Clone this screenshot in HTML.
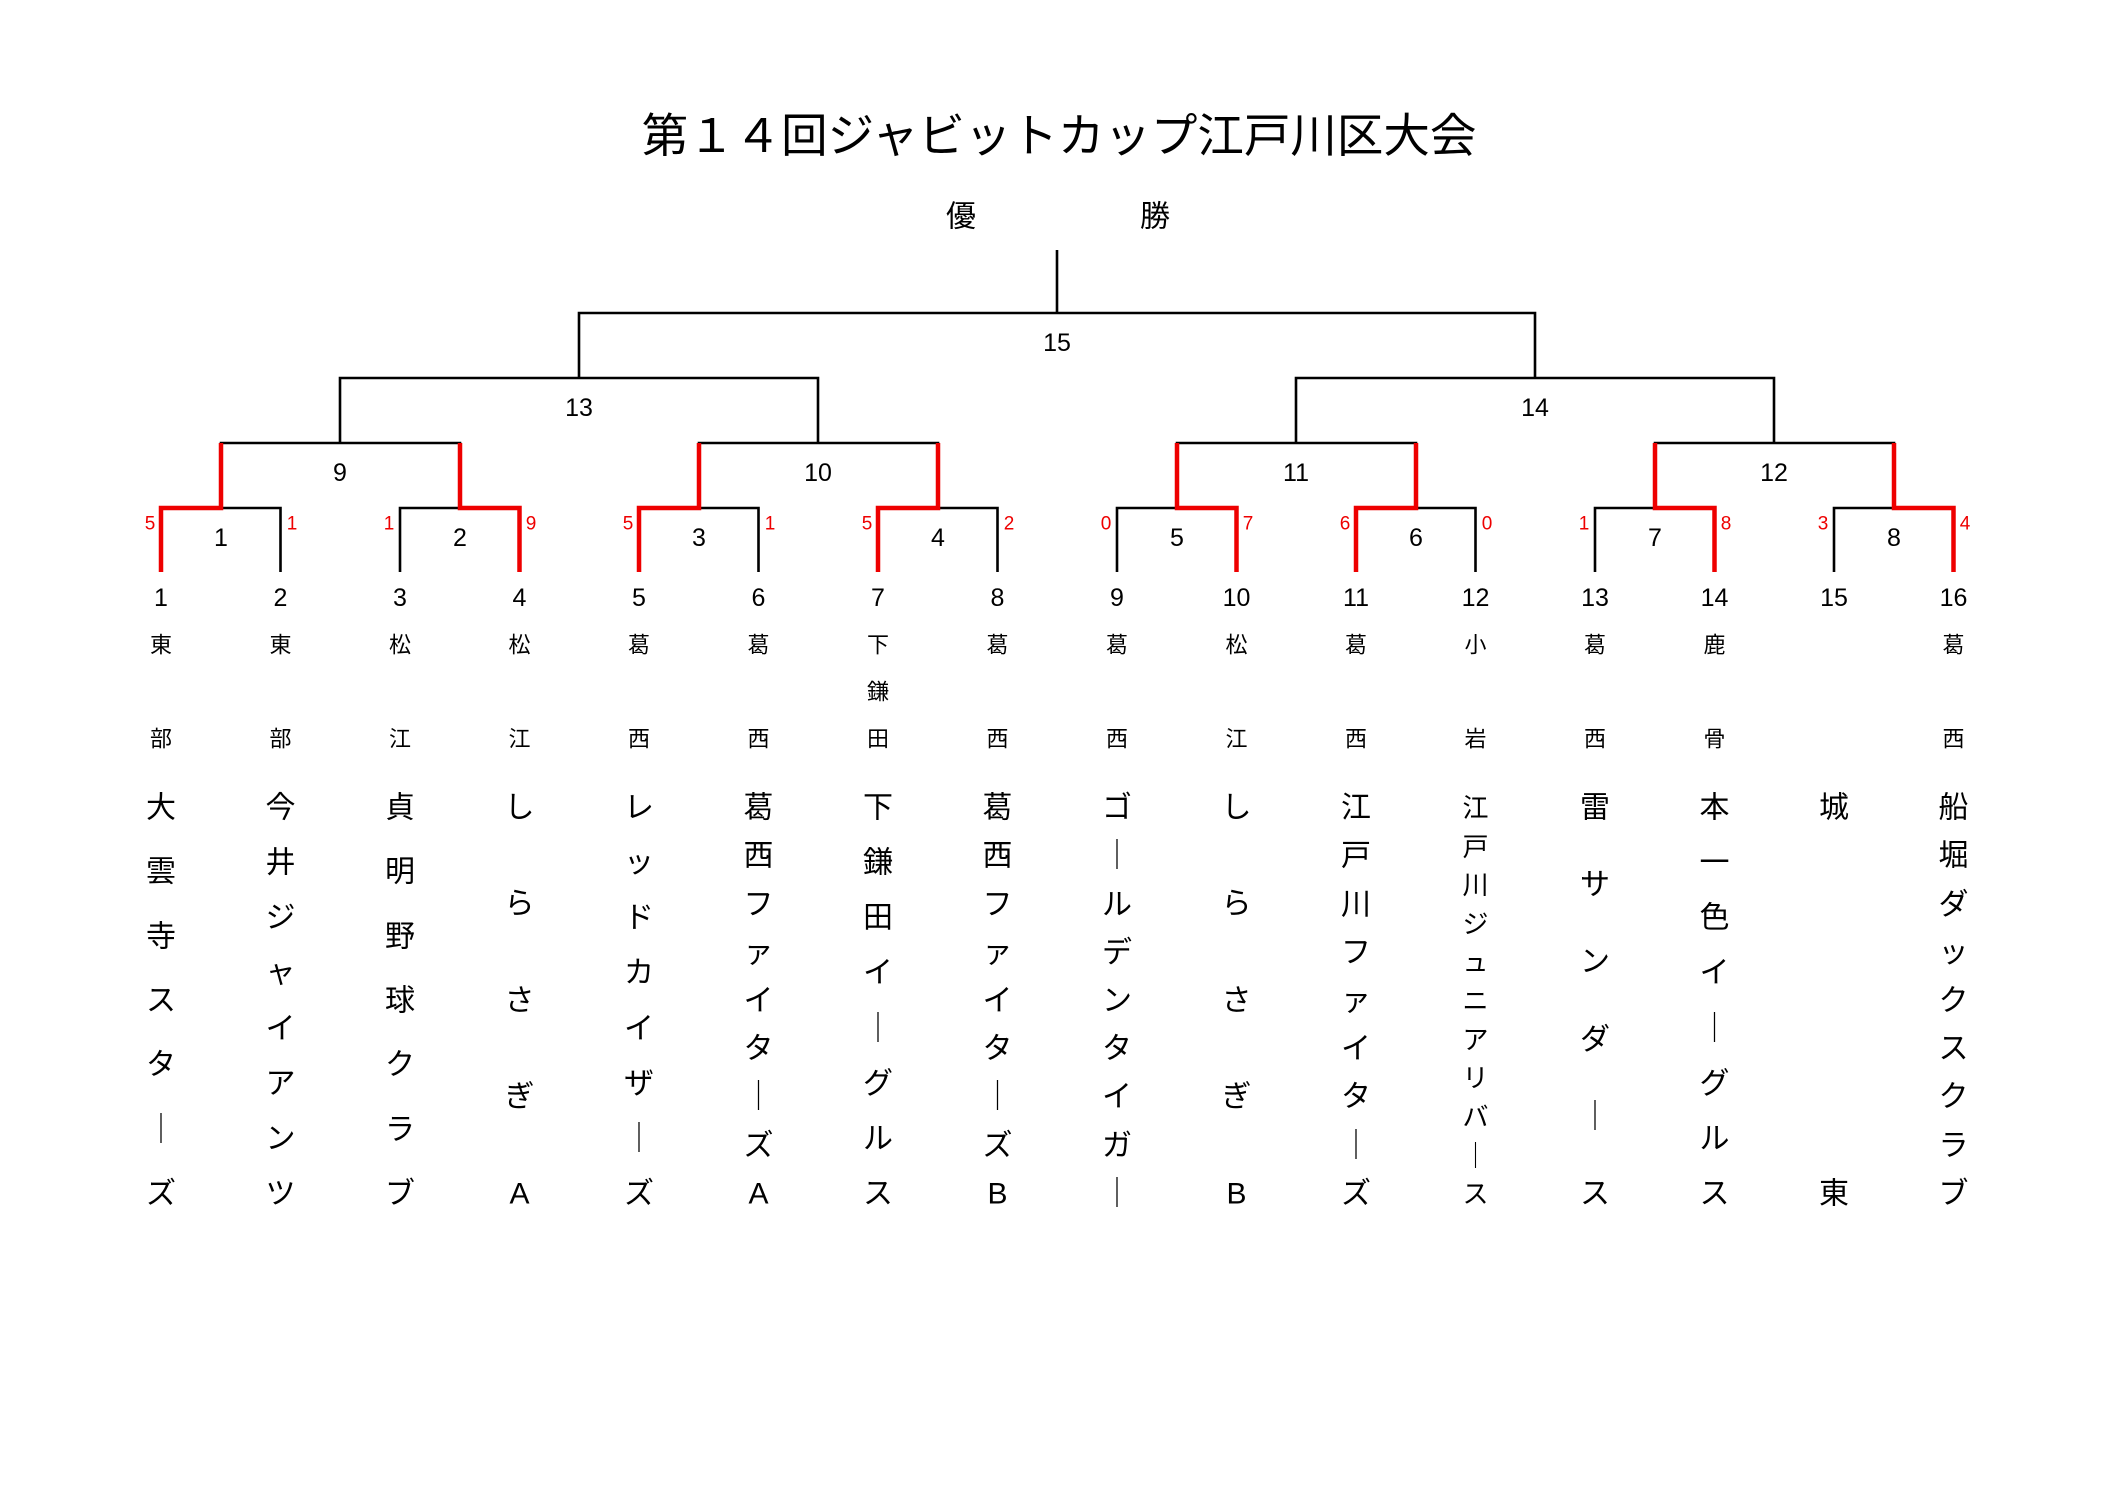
<!DOCTYPE html>
<html><head><meta charset="utf-8"><style>
html,body{margin:0;padding:0;background:#fff;}
svg{display:block;}
text{font-family:"Liberation Sans","Noto Sans CJK JP",sans-serif;text-anchor:middle;dominant-baseline:central;fill:#000;}
.n{font-size:25px;}
.s{font-size:19px;fill:#e00;}
.p{font-size:22px;}
.t{font-size:30px;}
.t2{font-size:26px;}
</style></head><body>
<svg width="2116" height="1497" viewBox="0 0 2116 1497" xmlns="http://www.w3.org/2000/svg">
<rect width="2116" height="1497" fill="#fff"/>
<text x="1059" y="136" style="font-size:46.5px">第１４回ジャビットカップ江戸川区大会</text>
<text x="961" y="217" style="font-size:30px">優</text>
<text x="1155" y="217" style="font-size:30px">勝</text>

<g stroke="#000" stroke-width="2.6" fill="none">
<path d="M1057 250V313M579 378V313H1535V378"/>
<path d="M340 443V378H818V443M1296 443V378H1774V443"/>
<path d="M221 508V443H460V508M699 508V443H938V508M1177 508V443H1416V508M1655 508V443H1894V508"/>
<path d="M161 572V508H280.5V572M400 572V508H519.5V572M639 572V508H758.5V572M878 572V508H997.5V572"/>
<path d="M1117 572V508H1236.5V572M1356 572V508H1475.5V572M1595 572V508H1714.5V572M1834 572V508H1953.5V572"/>
</g>
<g stroke="#e00" stroke-width="4.5" fill="none">
<path d="M161 572V508H221V443"/>
<path d="M519.5 572V508H460V443"/>
<path d="M639 572V508H699V443"/>
<path d="M878 572V508H938V443"/>
<path d="M1236.5 572V508H1177V443"/>
<path d="M1356 572V508H1416V443"/>
<path d="M1714.5 572V508H1655V443"/>
<path d="M1953.5 572V508H1894V443"/>
</g>

<text class="n" x="1057" y="343">15</text>
<text class="n" x="579" y="408">13</text>
<text class="n" x="1535" y="408">14</text>
<text class="n" x="340" y="473">9</text>
<text class="n" x="818" y="473">10</text>
<text class="n" x="1296" y="473">11</text>
<text class="n" x="1774" y="473">12</text>
<text class="n" x="221" y="538">1</text>
<text class="n" x="460" y="538">2</text>
<text class="n" x="699" y="538">3</text>
<text class="n" x="938" y="538">4</text>
<text class="n" x="1177" y="538">5</text>
<text class="n" x="1416" y="538">6</text>
<text class="n" x="1655" y="538">7</text>
<text class="n" x="1894" y="538">8</text>

<text class="s" x="150" y="524">5</text><text class="s" x="292" y="524">1</text>
<text class="s" x="389" y="524">1</text><text class="s" x="531" y="524">9</text>
<text class="s" x="628" y="524">5</text><text class="s" x="770" y="524">1</text>
<text class="s" x="867" y="524">5</text><text class="s" x="1009" y="524">2</text>
<text class="s" x="1106" y="524">0</text><text class="s" x="1248" y="524">7</text>
<text class="s" x="1345" y="524">6</text><text class="s" x="1487" y="524">0</text>
<text class="s" x="1584" y="524">1</text><text class="s" x="1726" y="524">8</text>
<text class="s" x="1823" y="524">3</text><text class="s" x="1965" y="524">4</text>

<text class="n" x="161" y="598">1</text>
<text class="n" x="280.5" y="598">2</text>
<text class="n" x="400" y="598">3</text>
<text class="n" x="519.5" y="598">4</text>
<text class="n" x="639" y="598">5</text>
<text class="n" x="758.5" y="598">6</text>
<text class="n" x="878" y="598">7</text>
<text class="n" x="997.5" y="598">8</text>
<text class="n" x="1117" y="598">9</text>
<text class="n" x="1236.5" y="598">10</text>
<text class="n" x="1356" y="598">11</text>
<text class="n" x="1475.5" y="598">12</text>
<text class="n" x="1595" y="598">13</text>
<text class="n" x="1714.5" y="598">14</text>
<text class="n" x="1834" y="598">15</text>
<text class="n" x="1953.5" y="598">16</text>

<text class="p" x="161" y="645">東</text><text class="p" x="161" y="739">部</text>
<text class="p" x="280.5" y="645">東</text><text class="p" x="280.5" y="739">部</text>
<text class="p" x="400" y="645">松</text><text class="p" x="400" y="739">江</text>
<text class="p" x="519.5" y="645">松</text><text class="p" x="519.5" y="739">江</text>
<text class="p" x="639" y="645">葛</text><text class="p" x="639" y="739">西</text>
<text class="p" x="758.5" y="645">葛</text><text class="p" x="758.5" y="739">西</text>
<text class="p" x="878" y="645">下</text><text class="p" x="878" y="692">鎌</text><text class="p" x="878" y="739">田</text>
<text class="p" x="997.5" y="645">葛</text><text class="p" x="997.5" y="739">西</text>
<text class="p" x="1117" y="645">葛</text><text class="p" x="1117" y="739">西</text>
<text class="p" x="1236.5" y="645">松</text><text class="p" x="1236.5" y="739">江</text>
<text class="p" x="1356" y="645">葛</text><text class="p" x="1356" y="739">西</text>
<text class="p" x="1475.5" y="645">小</text><text class="p" x="1475.5" y="739">岩</text>
<text class="p" x="1595" y="645">葛</text><text class="p" x="1595" y="739">西</text>
<text class="p" x="1714.5" y="645">鹿</text><text class="p" x="1714.5" y="739">骨</text>
<text class="p" x="1953.5" y="645">葛</text><text class="p" x="1953.5" y="739">西</text>

<g>
<text class="t" x="161" y="808">大</text><text class="t" x="161" y="872">雲</text><text class="t" x="161" y="937">寺</text><text class="t" x="161" y="1001">ス</text><text class="t" x="161" y="1065">タ</text><text class="t" x="161" y="1130">｜</text><text class="t" x="161" y="1194">ズ</text>

<text class="t" x="280.5" y="808">今</text><text class="t" x="280.5" y="863">井</text><text class="t" x="280.5" y="918">ジ</text><text class="t" x="280.5" y="973">ャ</text><text class="t" x="280.5" y="1029">イ</text><text class="t" x="280.5" y="1084">ア</text><text class="t" x="280.5" y="1139">ン</text><text class="t" x="280.5" y="1194">ツ</text>

<text class="t" x="400" y="808">貞</text><text class="t" x="400" y="872">明</text><text class="t" x="400" y="937">野</text><text class="t" x="400" y="1001">球</text><text class="t" x="400" y="1065">ク</text><text class="t" x="400" y="1130">ラ</text><text class="t" x="400" y="1194">ブ</text>

<text class="t" x="519.5" y="808">し</text><text class="t" x="519.5" y="904">ら</text><text class="t" x="519.5" y="1001">さ</text><text class="t" x="519.5" y="1097">ぎ</text><text class="t" x="519.5" y="1194">A</text>

<text class="t" x="639" y="808">レ</text><text class="t" x="639" y="863">ッ</text><text class="t" x="639" y="918">ド</text><text class="t" x="639" y="973">カ</text><text class="t" x="639" y="1029">イ</text><text class="t" x="639" y="1084">ザ</text><text class="t" x="639" y="1139">｜</text><text class="t" x="639" y="1194">ズ</text>

<text class="t" x="758.5" y="808">葛</text><text class="t" x="758.5" y="856">西</text><text class="t" x="758.5" y="905">フ</text><text class="t" x="758.5" y="953">ァ</text><text class="t" x="758.5" y="1001">イ</text><text class="t" x="758.5" y="1049">タ</text><text class="t" x="758.5" y="1097">｜</text><text class="t" x="758.5" y="1146">ズ</text><text class="t" x="758.5" y="1194">A</text>

<text class="t" x="878" y="808">下</text><text class="t" x="878" y="863">鎌</text><text class="t" x="878" y="918">田</text><text class="t" x="878" y="973">イ</text><text class="t" x="878" y="1029">｜</text><text class="t" x="878" y="1084">グ</text><text class="t" x="878" y="1139">ル</text><text class="t" x="878" y="1194">ス</text>

<text class="t" x="997.5" y="808">葛</text><text class="t" x="997.5" y="856">西</text><text class="t" x="997.5" y="905">フ</text><text class="t" x="997.5" y="953">ァ</text><text class="t" x="997.5" y="1001">イ</text><text class="t" x="997.5" y="1049">タ</text><text class="t" x="997.5" y="1097">｜</text><text class="t" x="997.5" y="1146">ズ</text><text class="t" x="997.5" y="1194">B</text>

<text class="t" x="1117" y="808">ゴ</text><text class="t" x="1117" y="856">｜</text><text class="t" x="1117" y="905">ル</text><text class="t" x="1117" y="953">デ</text><text class="t" x="1117" y="1001">ン</text><text class="t" x="1117" y="1049">タ</text><text class="t" x="1117" y="1097">イ</text><text class="t" x="1117" y="1146">ガ</text><text class="t" x="1117" y="1194">｜</text>

<text class="t" x="1236.5" y="808">し</text><text class="t" x="1236.5" y="904">ら</text><text class="t" x="1236.5" y="1001">さ</text><text class="t" x="1236.5" y="1097">ぎ</text><text class="t" x="1236.5" y="1194">B</text>

<text class="t" x="1356" y="808">江</text><text class="t" x="1356" y="856">戸</text><text class="t" x="1356" y="905">川</text><text class="t" x="1356" y="953">フ</text><text class="t" x="1356" y="1001">ァ</text><text class="t" x="1356" y="1049">イ</text><text class="t" x="1356" y="1097">タ</text><text class="t" x="1356" y="1146">｜</text><text class="t" x="1356" y="1194">ズ</text>

<text class="t2" x="1475.5" y="808">江</text><text class="t2" x="1475.5" y="847">戸</text><text class="t2" x="1475.5" y="885">川</text><text class="t2" x="1475.5" y="924">ジ</text><text class="t2" x="1475.5" y="962">ュ</text><text class="t2" x="1475.5" y="1001">ニ</text><text class="t2" x="1475.5" y="1040">ア</text><text class="t2" x="1475.5" y="1078">リ</text><text class="t2" x="1475.5" y="1117">バ</text><text class="t2" x="1475.5" y="1156">｜</text><text class="t2" x="1475.5" y="1194">ス</text>

<text class="t" x="1595" y="808">雷</text><text class="t" x="1595" y="885">サ</text><text class="t" x="1595" y="962">ン</text><text class="t" x="1595" y="1040">ダ</text><text class="t" x="1595" y="1117">｜</text><text class="t" x="1595" y="1194">ス</text>

<text class="t" x="1714.5" y="808">本</text><text class="t" x="1714.5" y="863">一</text><text class="t" x="1714.5" y="918">色</text><text class="t" x="1714.5" y="973">イ</text><text class="t" x="1714.5" y="1029">｜</text><text class="t" x="1714.5" y="1084">グ</text><text class="t" x="1714.5" y="1139">ル</text><text class="t" x="1714.5" y="1194">ス</text>

<text class="t" x="1834" y="808">城</text><text class="t" x="1834" y="1194">東</text>

<text class="t" x="1953.5" y="808">船</text><text class="t" x="1953.5" y="856">堀</text><text class="t" x="1953.5" y="905">ダ</text><text class="t" x="1953.5" y="953">ッ</text><text class="t" x="1953.5" y="1001">ク</text><text class="t" x="1953.5" y="1049">ス</text><text class="t" x="1953.5" y="1097">ク</text><text class="t" x="1953.5" y="1146">ラ</text><text class="t" x="1953.5" y="1194">ブ</text>
</g>
</svg>
</body></html>
